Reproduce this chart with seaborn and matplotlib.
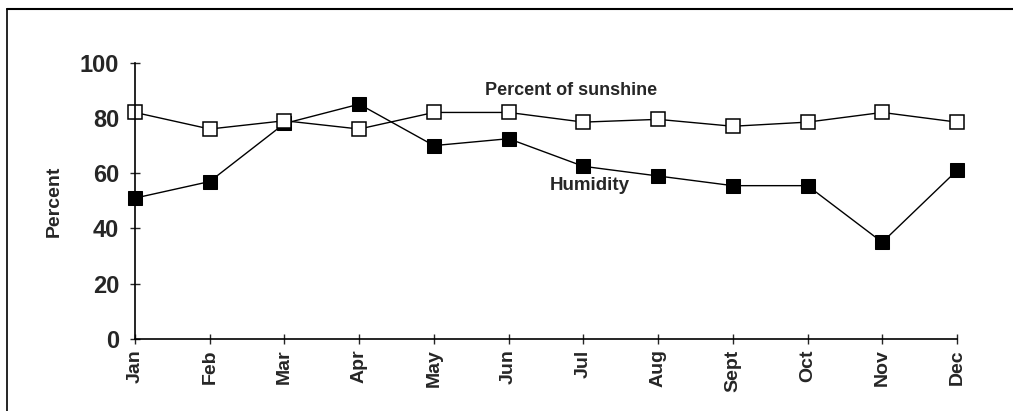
import numpy as np
import pandas as pd
import seaborn as sns
import matplotlib.pyplot as plt
from matplotlib.lines import Line2D

months = ['Jan', 'Feb', 'Mar', 'Apr', 'May', 'Jun', 'Jul', 'Aug', 'Sept', 'Oct', 'Nov', 'Dec']
sunshine = [82, 76, 79, 76, 82, 82, 78.5, 79.5, 77, 78.5, 82, 78.5]
humidity = [51, 57, 78, 85, 70, 72.5, 62.5, 59, 55.5, 55.5, 35, 61]

df = pd.DataFrame({'pos': np.arange(len(months)), 'month': months,
                   'sunshine': sunshine, 'humidity': humidity})

sns.set_style('white')
plt.rcParams['font.family'] = ['Liberation Sans', 'DejaVu Sans']

fig = plt.figure(figsize=(10.13, 4.11), dpi=100)
ax = fig.add_axes([0.1333, 0.1752, 0.8114, 0.6722])

# humidity first, sunshine on top (open squares)
sns.lineplot(data=df, x='pos', y='humidity', ax=ax, color='black', linewidth=1.0,
             marker='s', markersize=9.5, markerfacecolor='black', markeredgecolor='black',
             sort=False, clip_on=False)
sns.lineplot(data=df, x='pos', y='sunshine', ax=ax, color='black', linewidth=1.0,
             marker='s', markersize=9.5, markerfacecolor='white', markeredgecolor='black',
             markeredgewidth=1.1, sort=False, clip_on=False)

ax.set_xlim(0, len(months) - 1)
ax.set_ylim(0, 100)
ax.set_yticks([0, 20, 40, 60, 80, 100])
ax.set_xticks(df['pos'])
ax.set_xticklabels(months, rotation=90, fontsize=14, fontweight='bold')
for lbl in ax.get_yticklabels():
    lbl.set_fontweight('bold')
ax.tick_params(axis='y', labelsize=17, direction='inout', length=7, width=1, pad=8, left=True)
ax.tick_params(axis='x', direction='inout', length=7, width=1, pad=4, bottom=True)
ax.set_xlabel('')
ax.set_ylabel('Percent', fontsize=14, fontweight='bold', labelpad=12)

for side in ['top', 'right']:
    ax.spines[side].set_visible(False)
for side in ['left', 'bottom']:
    ax.spines[side].set_color('black')
    ax.spines[side].set_linewidth(1.2)

ax.text(4.69, 90, 'Percent of sunshine', fontsize=13, fontweight='bold', va='center', ha='left')
ax.text(5.55, 55.5, 'Humidity', fontsize=13.5, fontweight='bold', va='center', ha='left')

# frame around the chart (only top and left edges visible in the crop)
fig.add_artist(Line2D([7 / 1013, 1.0], [1 - 9.5 / 411, 1 - 9.5 / 411], color='black', linewidth=1.5))
fig.add_artist(Line2D([7 / 1013, 7 / 1013], [0, 1 - 9.5 / 411], color='black', linewidth=1.2))

fig.savefig('out.png', dpi=100)
